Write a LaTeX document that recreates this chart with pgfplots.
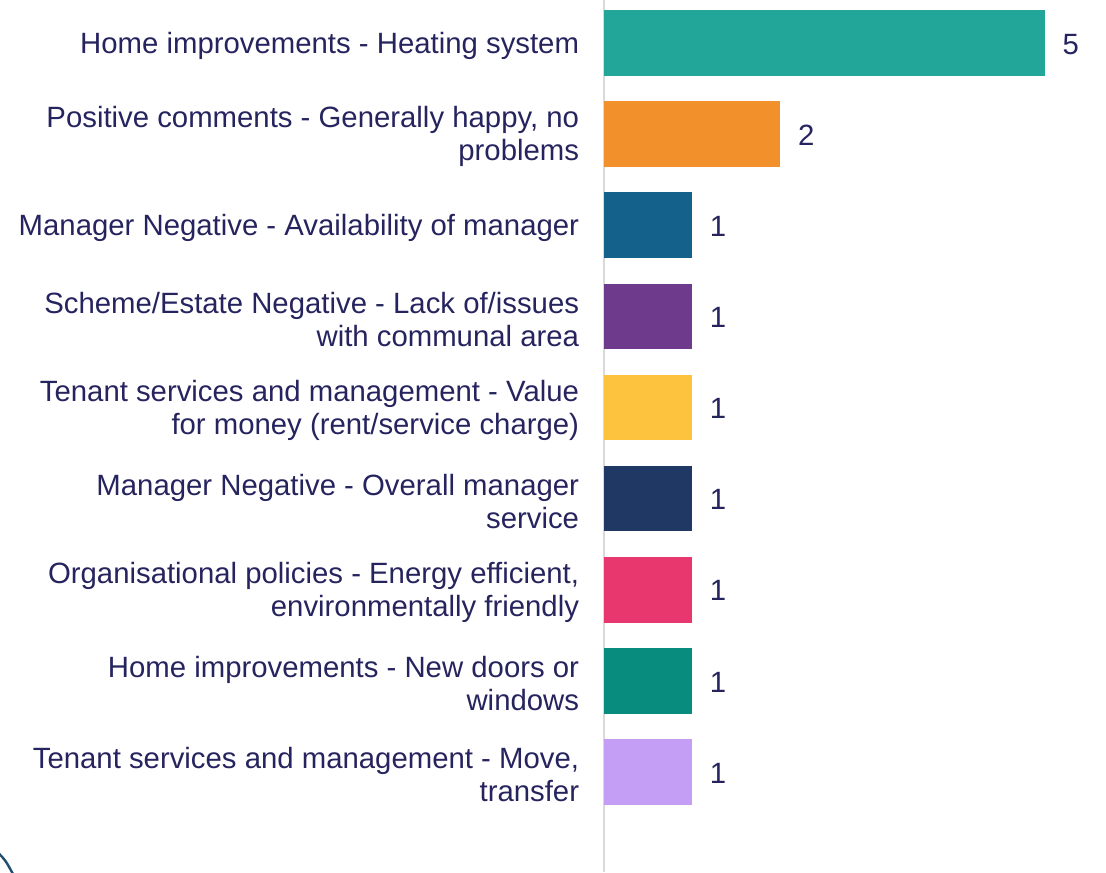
\documentclass[border=0pt]{standalone}
\usepackage{fontspec}
\setmainfont{Liberation Sans}
\usepackage{pgfplots}
\pgfplotsset{compat=1.18}
\definecolor{txt}{HTML}{26245E}
\definecolor{axc}{HTML}{D9D9D9}
\definecolor{c1}{HTML}{22A699}
\definecolor{c2}{HTML}{F2912C}
\definecolor{c3}{HTML}{14628C}
\definecolor{c4}{HTML}{6E3A8C}
\definecolor{c5}{HTML}{FDC23E}
\definecolor{c6}{HTML}{203864}
\definecolor{c7}{HTML}{E8376E}
\definecolor{c8}{HTML}{078C7E}
\definecolor{c9}{HTML}{C49EF5}
\definecolor{deco}{HTML}{1F4E6E}
\begin{document}
\begin{tikzpicture}
\useasboundingbox (0,0) rectangle (829.5pt,654pt);
\begin{axis}[
  at={(453pt,0pt)}, anchor=south west,
  scale only axis, width=376.5pt, height=654pt,
  xmin=0, xmax=5.69,
  ymin=-0.472, ymax=9.097, y dir=reverse,
  xbar, bar shift=0pt, bar width=0.72,
  axis x line=none,
  axis y line*=left,
  y axis line style={draw=axc, line width=1.5pt, -},
  major tick length=0pt,
  ytick={0,1,2,3,4,5,6,7,8},
  yticklabels={
    {Home improvements - Heating system},
    {Positive comments - Generally happy, no\\problems},
    {Manager Negative - Availability of manager},
    {Scheme/Estate Negative - Lack of/issues\\with communal area},
    {Tenant services and management - Value\\for money (rent/service charge)},
    {Manager Negative - Overall manager\\service},
    {Organisational policies - Energy efficient,\\environmentally friendly},
    {Home improvements - New doors or\\windows},
    {Tenant services and management - Move,\\transfer}},
  yticklabel style={font=\fontsize{22}{24.75}\selectfont, text=txt, align=right, inner sep=0pt, anchor=east, xshift=-18.5pt, yshift=-2pt},
  /pgf/number format/assume math mode=true,
  nodes near coords,
  nodes near coords style={font=\fontsize{22}{24.75}\selectfont, text=txt, anchor=west, inner sep=0pt, xshift=13pt, yshift=-0.8pt},
  every axis plot/.append style={draw=none},
]
\addplot[fill=c1] coordinates {(5,0)};
\addplot[fill=c2] coordinates {(2,1)};
\addplot[fill=c3] coordinates {(1,2)};
\addplot[fill=c4] coordinates {(1,3)};
\addplot[fill=c5] coordinates {(1,4)};
\addplot[fill=c6] coordinates {(1,5)};
\addplot[fill=c7] coordinates {(1,6)};
\addplot[fill=c8] coordinates {(1,7)};
\addplot[fill=c9] coordinates {(1,8)};
\end{axis}
\draw[deco, line width=1.8pt] (-2pt,15pt) .. controls (4pt,9pt) .. (10pt,-2pt);
\end{tikzpicture}
\end{document}
